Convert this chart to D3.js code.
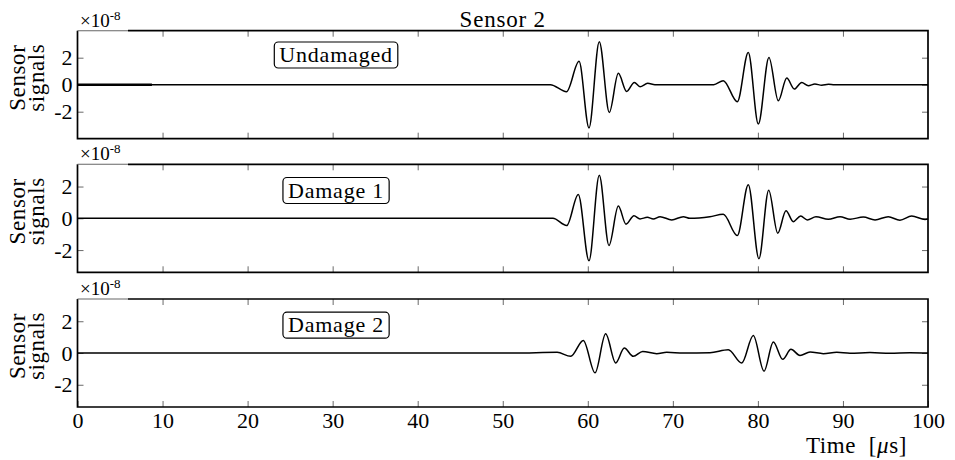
<!DOCTYPE html>
<html>
<head>
<meta charset="utf-8">
<script src="https://cdn.jsdelivr.net/npm/d3@7"></script>
<style>
  html, body { margin: 0; padding: 0; background: #fff; }
  svg text { font-family: 'Liberation Serif', 'DejaVu Serif', serif !important; }
</style>
</head>
<body>
<svg id="chart" width="955" height="460"></svg>
<script>
// ── Data (time in µs, signal in units of 1e-8) ──
var panelNames = ['Undamaged', 'Damage 1', 'Damage 2'];
var yLimits = [4.0, 3.4, 3.4];
var xTicks = [0, 10, 20, 30, 40, 50, 60, 70, 80, 90, 100];
var yTicks = [-2, 0, 2];

var undamaged = [
  [0, 0], [55.6, 0], [57.5, -0.52], [58.97, 1.73], [60.14, -3.2], [61.35, 3.19],
  [62.53, -2.05], [63.59, 0.84], [64.57, -0.5], [65.47, 0.17], [66.14, -0.15],
  [67.04, 0.1], [67.9, 0], [74.8, 0], [75.93, 0.3], [77.58, -1.26], [78.87, 2.39],
  [80.05, -2.91], [81.3, 2.02], [82.4, -1.19], [83.39, 0.5], [84.28, -0.32],
  [85.15, 0.17], [85.93, -0.07], [86.7, 0.05], [87.5, -0.04], [88.3, 0.03],
  [89, 0], [100, 0]
];
var damage1 = [
  [0, 0], [55.9, 0], [57.52, -0.46], [58.88, 1.5], [60.14, -2.67], [61.35, 2.71],
  [62.49, -1.71], [63.59, 0.77], [64.49, -0.37], [65.43, 0.16], [66.14, -0.04],
  [67.0, 0.06], [67.7, -0.04], [68.5, 0.1], [69.87, -0.1], [71.23, 0.1], [72.0, 0],
  [74.35, 0.1], [75.93, 0.25], [77.58, -1.09], [78.87, 2.12], [80.12, -2.54],
  [81.27, 1.77], [82.33, -0.94], [83.3, 0.48], [84.16, -0.21], [85.03, 0.14],
  [85.81, -0.1], [86.83, 0.1], [88.28, -0.06], [89.66, 0.1], [90.84, -0.06],
  [92.39, 0.08], [93.77, -0.1], [95.33, 0.1], [96.7, -0.12], [98.08, 0.14],
  [99.65, -0.07], [100, -0.05]
];
var damage2 = [
  [0, 0], [51.4, 0], [56.4, 0.04], [57.99, -0.21], [59.47, 0.79], [60.85, -1.25],
  [62.1, 1.21], [63.28, -0.63], [64.29, 0.31], [65.35, -0.21], [66.45, 0.1],
  [68.1, -0.04], [69.28, 0.04], [71.23, 0], [74.37, 0.02], [76.52, 0.21],
  [78.1, -0.63], [79.46, 1.1], [80.72, -1.15], [81.81, 0.69], [82.92, -0.4],
  [83.89, 0.23], [84.95, -0.15], [86.13, 0.06], [87.69, -0.04], [89.27, 0.04],
  [90.83, -0.02], [93.18, 0.03], [95.53, -0.02], [97.88, 0.02], [100, 0]
];
var signals = [undamaged, damage1, damage2];
// short cross-talk at the start of the undamaged record
var earlyBurst = [[0, 0], [8.75, 0]];

// ── Layout ──
var left = 77.5, right = 928;
var panelTops = [30.7, 164.3, 299];
var panelH = 108;
var boxX = 30.4, boxY = [2.2, 1.75, 1.75];
var serif = "'Liberation Serif', 'DejaVu Serif', serif";

var svg = d3.select('#chart').attr('font-family', serif);
var x = d3.scaleLinear().domain([0, 100]).range([left, right]);

svg.append('text')
  .attr('x', (left + right) / 2).attr('y', 26.5)
  .attr('text-anchor', 'middle').attr('font-size', 23).attr('letter-spacing', 0.8)
  .text('Sensor 2');

panelNames.forEach(function (name, i) {
  var top = panelTops[i], bottom = top + panelH;
  var lim = yLimits[i];
  var y = d3.scaleLinear().domain([-lim, lim]).range([bottom, top]);
  var g = svg.append('g');

  // inward ticks, top / bottom / left / right
  var inner = xTicks.slice(1, -1);
  g.append('g').attr('transform', 'translate(0,' + top + ')')
    .call(d3.axisTop(x).tickValues(inner).tickSize(-6).tickFormat(''));
  g.append('g').attr('transform', 'translate(0,' + bottom + ')')
    .call(d3.axisBottom(x).tickValues(i === 2 ? xTicks : inner).tickSize(-6).tickPadding(5)
      .tickFormat(i === 2 ? function (d) { return String(d); } : ''));
  g.append('g').attr('transform', 'translate(' + left + ',0)')
    .call(d3.axisLeft(y).tickValues(yTicks).tickSize(-6).tickPadding(5)
      .tickFormat(function (d) { return String(d); }));
  g.append('g').attr('transform', 'translate(' + right + ',0)')
    .call(d3.axisRight(y).tickValues(yTicks).tickSize(-6).tickFormat(''));

  g.selectAll('.domain').remove();
  g.selectAll('g').attr('font-family', serif).attr('font-size', 22);
  g.selectAll('.tick line').attr('stroke', '#444').attr('stroke-width', 0.8);
  g.selectAll('.tick text').attr('fill', '#000');

  // signal
  var line = d3.line()
    .x(function (d) { return x(d[0]); })
    .y(function (d) { return y(d[1]); })
    .curve(d3.curveMonotoneX);
  g.append('path').datum(signals[i]).attr('d', line)
    .attr('fill', 'none').attr('stroke', '#000').attr('stroke-width', 1.5)
    .attr('stroke-linejoin', 'round');
  if (i === 0) {
    g.append('path').datum(earlyBurst).attr('d', line)
      .attr('fill', 'none').attr('stroke', '#000').attr('stroke-width', 2.4);
  }

  // spines
  g.append('path')
    .attr('d', 'M' + 128 + ',' + top + 'H' + right + 'V' + bottom + 'H' + left + 'V' + top)
    .attr('fill', 'none').attr('stroke', '#000').attr('stroke-width', 1.7);
  g.append('line').attr('x1', left).attr('x2', 128).attr('y1', top).attr('y2', top)
    .attr('stroke', '#666').attr('stroke-width', 1.1);

  // exponent
  var ex = g.append('text').attr('x', 80).attr('y', top - 4).attr('font-size', 19);
  ex.append('tspan').text('×10');
  ex.append('tspan').attr('font-size', 13).attr('dy', -7).text('-8');

  // y label
  var cy = top + panelH / 2 - 7;
  g.append('text').attr('transform', 'translate(25,' + cy + ') rotate(-90)')
    .attr('text-anchor', 'middle').attr('font-size', 23).attr('letter-spacing', 0.6).text('Sensor');
  g.append('text').attr('transform', 'translate(43.5,' + cy + ') rotate(-90)')
    .attr('text-anchor', 'middle').attr('font-size', 23).attr('letter-spacing', 0.6).text('signals');

  // label box
  var bx = x(boxX), by = y(boxY[i]);
  var box = g.append('rect');
  var t = g.append('text').attr('x', bx).attr('y', by).attr('dy', '0.33em')
    .attr('text-anchor', 'middle').attr('font-size', 22).attr('letter-spacing', 0.8)
    .text(name);
  var bb = t.node().getBBox();
  box.attr('x', bb.x - 5).attr('y', by - 13).attr('width', bb.width + 10).attr('height', 26)
    .attr('rx', 4).attr('fill', '#fff').attr('stroke', '#000').attr('stroke-width', 1.2);
});

// x label
var xl = svg.append('text').attr('x', 907).attr('y', 453)
  .attr('text-anchor', 'end').attr('font-size', 23).attr('letter-spacing', 0.6)
  .attr('xml:space', 'preserve');
xl.append('tspan').text('Time  [');
xl.append('tspan').attr('font-style', 'italic').text('μ');
xl.append('tspan').text('s]');
</script>
</body>
</html>
